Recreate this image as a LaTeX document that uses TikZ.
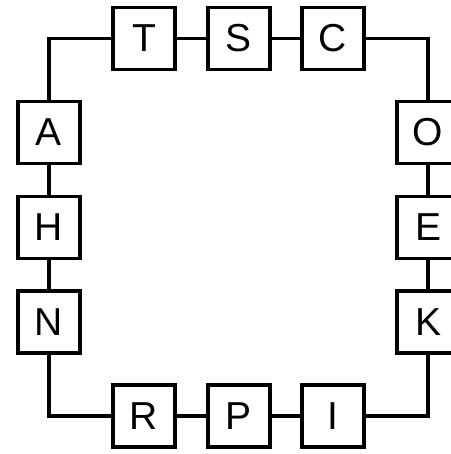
\documentclass[tikz,border=0pt]{standalone}
\usepackage{fontspec}
\setmainfont{Liberation Sans}
\begin{document}
\begin{tikzpicture}[x=1pt,y=-1pt,
  letterbox/.style={draw, line width=3.2pt, minimum size=62pt, inner sep=0pt, fill=white, font=\fontsize{39}{44}\selectfont},
  link/.style={line width=3.2pt}]
\useasboundingbox (0,0) rectangle (450,454);
\node[letterbox] (T) at (144,38.5) {T};
\node[letterbox] (S) at (239,38.5) {S};
\node[letterbox] (C) at (333,38.5) {C};
\node[letterbox] (O) at (428,132.5) {O};
\node[letterbox] (E) at (428,227.5) {E};
\node[letterbox] (K) at (428,322) {K};
\node[letterbox] (A) at (49,132.5) {A};
\node[letterbox] (H) at (49,227.5) {H};
\node[letterbox] (N) at (49,322) {N};
\node[letterbox] (R) at (144,416) {R};
\node[letterbox] (P) at (239,416) {P};
\node[letterbox] (I) at (333,416) {I};
\draw[link] (A) |- (T);
\draw[link] (T) -- (S);
\draw[link] (S) -- (C);
\draw[link] (C) -| (O);
\draw[link] (O) -- (E);
\draw[link] (E) -- (K);
\draw[link] (K) |- (I);
\draw[link] (I) -- (P);
\draw[link] (P) -- (R);
\draw[link] (R) -| (N);
\draw[link] (N) -- (H);
\draw[link] (H) -- (A);
\end{tikzpicture}
\end{document}
